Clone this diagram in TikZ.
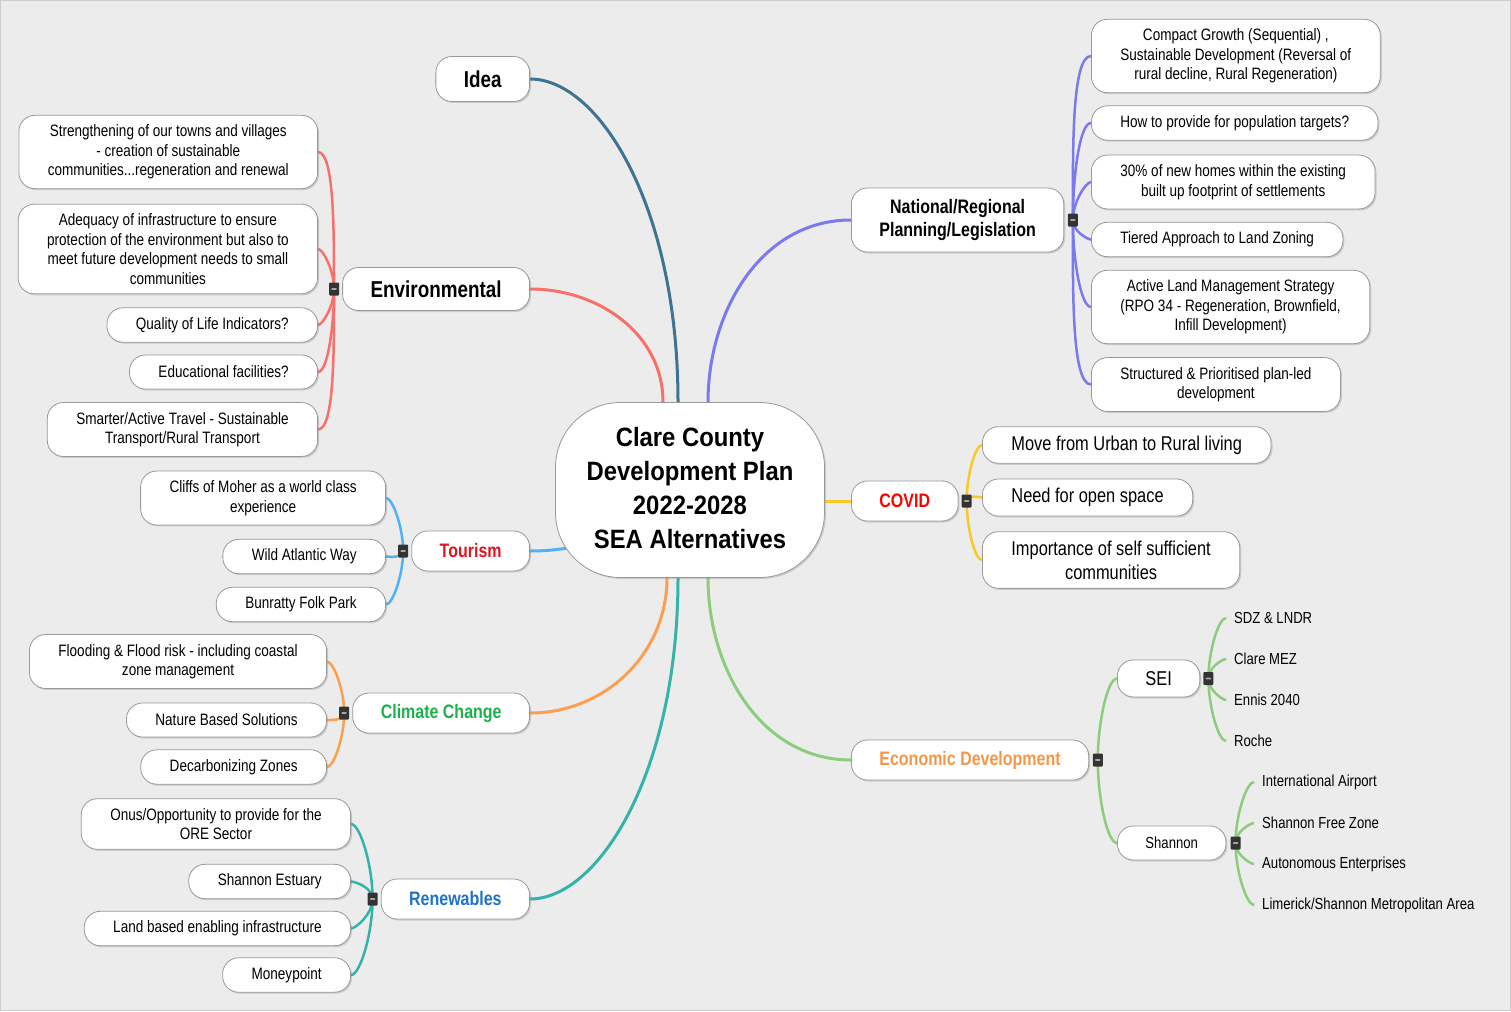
\documentclass[tikz,border=0pt]{standalone}
\usepackage{fontspec}
\setmainfont{Liberation Sans}[FakeStretch=0.82]
\newfontfamily\rootfont{Liberation Sans}[FakeStretch=0.9]
\usetikzlibrary{positioning,shadows,backgrounds}
\definecolor{bgc}{RGB}{236,236,236}
\definecolor{cidea}{RGB}{62,115,145}\definecolor{cenv}{RGB}{247,113,106}
\definecolor{ctour}{RGB}{80,178,245}\definecolor{cclim}{RGB}{250,160,80}
\definecolor{cren}{RGB}{52,180,168}\definecolor{cnat}{RGB}{122,122,238}
\definecolor{ccov}{RGB}{250,200,40}\definecolor{ceco}{RGB}{140,205,125}
\definecolor{tred}{RGB}{225,20,35}\definecolor{tgreen}{RGB}{30,176,75}
\definecolor{tblue}{RGB}{30,115,200}\definecolor{torange}{RGB}{247,150,70}
\tikzset{box/.style={draw=black!40,line width=.8pt,fill=white,rounded corners=16pt,align=center,inner xsep=29pt,inner ysep=9.5pt,minimum height=34pt,drop shadow={shadow xshift=1.5pt,shadow yshift=-1.5pt,opacity=.3}},
lf/.style={box,font=\fontsize{16.5}{19.5}\selectfont},
big/.style={box,inner ysep=9pt,font=\fontsize{20}{24}\selectfont},
br/.style={box,inner xsep=28pt,minimum height=40pt,font=\bfseries\fontsize{19.5}{23}\selectfont},
tog/.style={fill=black!80,rounded corners=1pt,minimum width=10pt,minimum height=13pt,inner sep=0pt,path picture={\fill[black!35]([xshift=-3pt,yshift=-.8pt]path picture bounding box.center)rectangle([xshift=3pt,yshift=.8pt]path picture bounding box.center);}},
tx/.style={inner xsep=8pt,font=\fontsize{16}{19}\selectfont},
lk/.style={line width=2.5pt,out looseness=.3,in looseness=1.1},
tr/.style={line width=3pt}}
\begin{document}
\begin{tikzpicture}[x=1pt,y=1pt]
\useasboundingbox(0,0)rectangle(1511,-1011);
\begin{scope}[on background layer]\fill[bgc,draw=black!20](.5,-.5)rectangle(1510.5,-1010.5);\end{scope}
\node[box,rounded corners=65pt,minimum width=269pt,minimum height=175pt,inner xsep=10pt,text depth=4pt,font=\rootfont\bfseries\fontsize{26.5}{34}\selectfont](root)at(690,-490){Clare County\\Development Plan\\2022-2028\\SEA Alternatives};
\node[br,anchor=east,minimum height=45pt,font=\bfseries\fontsize{23}{27}\selectfont](idea)at(530,-79){Idea};
\node[br,anchor=east,minimum height=43pt,font=\bfseries\fontsize{23}{27}\selectfont](env)at(530,-289){Environmental};
\node[br,anchor=east,text=tred](tour)at(530,-551){Tourism};
\node[br,anchor=east,text=tgreen](clim)at(530,-713){Climate Change};
\node[br,anchor=east,text=tblue](ren)at(530,-899){Renewables};
\node[br,anchor=west,minimum height=64pt](nat)at(851,-220){National/Regional\\Planning/Legislation};
\node[br,anchor=west,text=red](cov)at(851,-501){COVID};
\node[br,anchor=west,text=torange](eco)at(851,-760){Economic Development};
\node[tog,left=3pt of env](envt){};\node[tog,left=3pt of tour](tourt){};
\node[tog,left=3pt of clim](climt){};\node[tog,left=3pt of ren](rent){};
\node[tog,right=3.5pt of nat](natt){};\node[tog,right=3pt of cov](covt){};
\node[tog,right=3.5pt of eco](ecot){};
\node[lf,anchor=east](e1)at(318,-152){Strengthening of our towns and villages\\- creation of sustainable\\communities...regeneration and renewal};
\node[lf,anchor=east](e2)at(318,-249){Adequacy of infrastructure to ensure\\protection of the environment but also to\\meet future development needs to small\\communities};
\node[lf,anchor=east](e3)at(318,-325){Quality of Life Indicators?};
\node[lf,anchor=east](e4)at(318,-372){Educational facilities?};
\node[lf,anchor=east](e5)at(318,-429.5){Smarter/Active Travel - Sustainable\\Transport/Rural Transport};
\node[lf,anchor=east](t1)at(386,-498){Cliffs of Moher as a world class\\experience};
\node[lf,anchor=east](t2)at(386,-556.5){Wild Atlantic Way};
\node[lf,anchor=east](t3)at(386,-604.5){Bunratty Folk Park};
\node[lf,anchor=east](c1)at(327,-661.5){Flooding \& Flood risk - including coastal\\zone management};
\node[lf,anchor=east](c2)at(327,-720){Nature Based Solutions};
\node[lf,anchor=east](c3)at(327,-767){Decarbonizing Zones};
\node[lf,anchor=east](r1)at(351,-824){Onus/Opportunity to provide for the\\ORE Sector};
\node[lf,anchor=east](r2)at(351,-881.5){Shannon Estuary};
\node[lf,anchor=east](r3)at(351,-928.5){Land based enabling infrastructure};
\node[lf,anchor=east](r4)at(351,-975){Moneypoint};
\node[lf,anchor=west](n1)at(1091,-56){Compact Growth (Sequential) ,\\Sustainable Development (Reversal of\\rural decline, Rural Regeneration)};
\node[lf,anchor=west](n2)at(1091,-123){How to provide for population targets?};
\node[lf,anchor=west](n3)at(1091,-182){30\% of new homes within the existing\\built up footprint of settlements};
\node[lf,anchor=west](n4)at(1091,-239.5){Tiered Approach to Land Zoning};
\node[lf,anchor=west](n5)at(1091,-307){Active Land Management Strategy\\(RPO 34 - Regeneration, Brownfield,\\Infill Development)};
\node[lf,anchor=west](n6)at(1091,-384.5){Structured \& Prioritised plan-led\\development};
\node[big,anchor=west,minimum height=36pt](v1)at(982,-445){Move from Urban to Rural living};
\node[big,anchor=west,minimum height=37pt](v2)at(982,-497.5){Need for open space};
\node[big,anchor=west](v3)at(982,-560){Importance of self sufficient\\communities};
\node[big,anchor=west,inner xsep=28pt,minimum height=37pt](sei)at(1117,-678.5){SEI};
\node[lf,anchor=west,inner xsep=28pt,font=\fontsize{16}{19}\selectfont](sha)at(1117,-843){Shannon};
\node[tog,right=3pt of sei](seit){};\node[tog,right=4pt of sha](shat){};
\node[tx,anchor=west](s1)at(1226,-618){SDZ \& LNDR};\node[tx,anchor=west](s2)at(1226,-659){Clare MEZ};
\node[tx,anchor=west](s3)at(1226,-700){Ennis 2040};\node[tx,anchor=west](s4)at(1226,-741){Roche};
\node[tx,anchor=west](h1)at(1254,-782){International Airport};\node[tx,anchor=west](h2)at(1254,-823){Shannon Free Zone};
\node[tx,anchor=west](h3)at(1254,-864){Autonomous Enterprises};\node[tx,anchor=west](h4)at(1254,-905){Limerick/Shannon Metropolitan Area};
\begin{scope}[on background layer]
\draw[tr,cidea](idea.east)to[out=0,in=90,out looseness=.5,in looseness=1.4]([xshift=-12pt]root.north);
\draw[tr,cenv](env.east)to[out=0,in=90]([xshift=-27pt]root.north);
\draw[tr,ctour](tour.east)to[out=0,in=190]([xshift=30pt,yshift=-55pt]root.west);
\draw[tr,cclim](clim.east)to[out=0,in=270]([xshift=-23pt]root.south);
\draw[tr,cren](ren.east)to[out=0,in=270,out looseness=.5,in looseness=1.4]([xshift=-12pt]root.south);
\draw[tr,cnat](nat.west)to[out=180,in=90]([xshift=18pt]root.north);
\draw[tr,ccov](cov.west)--(cov.west-|root.east);
\draw[tr,ceco](eco.west)to[out=180,in=270]([xshift=18pt]root.south);
\foreach\a/\i in{e1/90,e2/90,e3/270,e4/270,e5/270}\draw[lk,cenv](\a.east)to[out=0,in=\i](envt.center);
\foreach\a/\i in{t1/90,t2/270,t3/270}\draw[lk,ctour](\a.east)to[out=0,in=\i](tourt.center);
\foreach\a/\i in{c1/90,c2/270,c3/270}\draw[lk,cclim](\a.east)to[out=0,in=\i](climt.center);
\foreach\a/\i in{r1/90,r2/90,r3/270,r4/270}\draw[lk,cren](\a.east)to[out=0,in=\i](rent.center);
\foreach\a/\i in{n1/90,n2/90,n3/90,n4/270,n5/270,n6/270}\draw[lk,cnat](\a.west)to[out=180,in=\i](natt.center);
\foreach\a/\i in{v1/90,v2/90,v3/270}\draw[lk,ccov](\a.west)to[out=180,in=\i](covt.center);
\foreach\a/\i in{sei/90,sha/270}\draw[lk,ceco](\a.west)to[out=180,in=\i](ecot.center);
\foreach\a/\i in{s1/90,s2/90,s3/270,s4/270}\draw[lk,ceco](\a.west)to[out=180,in=\i](seit.center);
\foreach\a/\i in{h1/90,h2/90,h3/270,h4/270}\draw[lk,ceco](\a.west)to[out=180,in=\i](shat.center);
\end{scope}
\end{tikzpicture}
\end{document}
